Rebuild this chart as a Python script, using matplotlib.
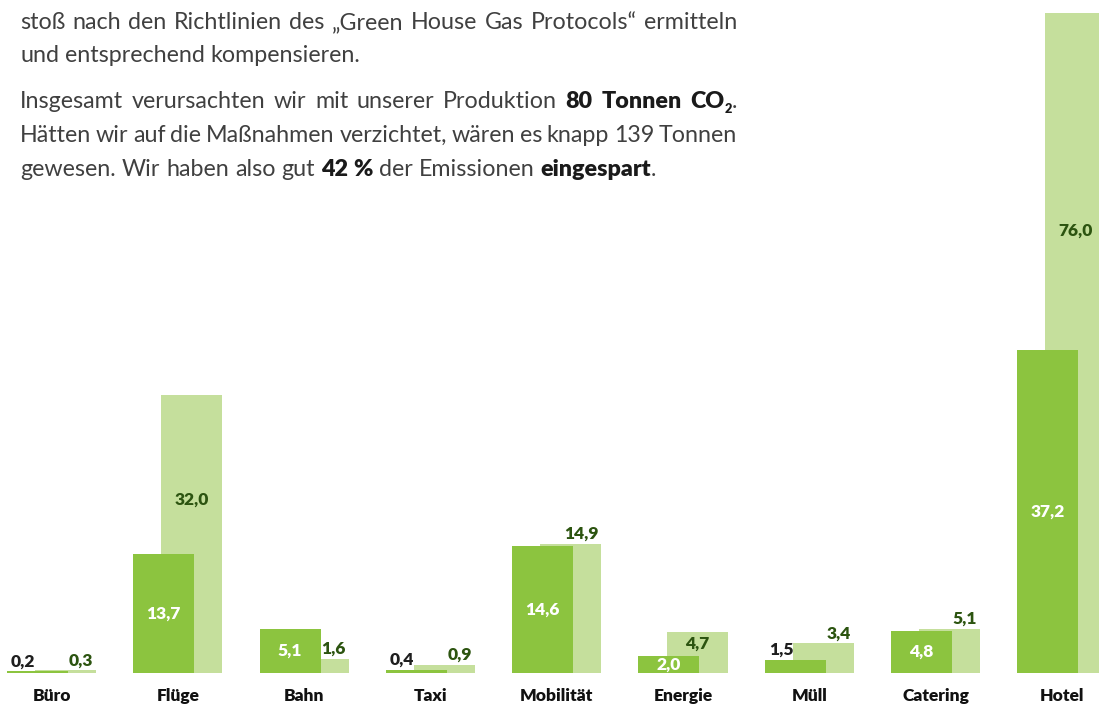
import numpy as np
import matplotlib
matplotlib.use("Agg")
import matplotlib.pyplot as plt
from matplotlib.transforms import IdentityTransform

# ---------------- data ----------------
categories = ["Büro", "Flüge", "Bahn", "Taxi", "Mobilität", "Energie", "Müll", "Catering", "Hotel"]
actual = [0.2, 13.7, 5.1, 0.4, 14.6, 2.0, 1.5, 4.8, 37.2]        # mit Maßnahmen
without = [0.3, 32.0, 1.6, 0.9, 14.9, 4.7, 3.4, 5.1, 76.0]       # ohne Maßnahmen

# paragraph: lines -> words -> segments (text, bold, subscript)
para_lines = [
    [[("stoß", 0, 0)], [("nach", 0, 0)], [("den", 0, 0)], [("Richtlinien", 0, 0)], [("des", 0, 0)],
     [("„Green", 0, 0)], [("House", 0, 0)], [("Gas", 0, 0)], [("Protocols“", 0, 0)], [("ermitteln", 0, 0)]],
    [[("und", 0, 0)], [("entsprechend", 0, 0)], [("kompensieren.", 0, 0)]],
    [[("Insgesamt", 0, 0)], [("verursachten", 0, 0)], [("wir", 0, 0)], [("mit", 0, 0)], [("unserer", 0, 0)],
     [("Produktion", 0, 0)], [("80", 1, 0)], [("Tonnen", 1, 0)], [("CO", 1, 0), ("2", 1, 1), (".", 0, 0)]],
    [[("Hätten", 0, 0)], [("wir", 0, 0)], [("auf", 0, 0)], [("die", 0, 0)], [("Maßnahmen", 0, 0)],
     [("verzichtet,", 0, 0)], [("wären", 0, 0)], [("es", 0, 0)], [("knapp", 0, 0)], [("139", 0, 0)], [("Tonnen", 0, 0)]],
    [[("gewesen.", 0, 0)], [("Wir", 0, 0)], [("haben", 0, 0)], [("also", 0, 0)], [("gut", 0, 0)],
     [("42", 1, 0)], [("%", 1, 0)], [("der", 0, 0)], [("Emissionen", 0, 0)], [("eingespart", 1, 0), (".", 0, 0)]],
]
justified = [True, False, True, True, False]
baselines_px = [29, 62, 108, 142, 176]   # from top

# ---------------- style ----------------
DARK = "#8cc43f"
LIGHT = "#c5df9c"
LIGHT_TXT = "#2c5410"
DARK_TXT = "#1e1e1e"
BODY = "#404040"
LABEL_FONT = "Lato"
BODY_FONT = "Lato"

W, H, DPI = 1099, 706, 100
fig = plt.figure(figsize=(W / DPI, H / DPI), dpi=DPI)
fig.patch.set_facecolor("white")

ax = fig.add_axes([0, 33 / H, 1, 1 - 33 / H])
n = len(categories)
x = np.arange(n)
off = 0.222
bw = 0.483
ax.bar(x + off / 2, without, bw, color=LIGHT, zorder=1, linewidth=0)
ax.bar(x - off / 2, actual, bw, color=DARK, zorder=2, linewidth=0)
ax.set_xlim(-0.408, 8.294)
ax.set_ylim(0, 77.5)
ax.axis("off")

fs = 12.5
lw_label = "heavy"
pt = 72 / DPI  # points per pixel


def fmt(v):
    return f"{v:.1f}".replace(".", ",")


for i in range(n):
    a, b = actual[i], without[i]
    xd, xl = x[i] - off / 2, x[i] + off / 2
    # dark bar label
    if a >= 2:
        ax.text(xd, a / 2, fmt(a), color="white", ha="center", va="center",
                fontsize=fs, fontweight=lw_label, family=LABEL_FONT, zorder=5)
    else:
        ax.annotate(fmt(a), (xd - bw / 2, a), xytext=(4 * pt, 5 * pt), textcoords="offset points",
                    ha="left", va="baseline", color=DARK_TXT, fontsize=fs, fontweight=lw_label,
                    family=LABEL_FONT, zorder=5)
    # light bar label
    if b > 20:
        ax.text(xl, 0.705 * b - 2.65, fmt(b), color=LIGHT_TXT, ha="center", va="center",
                fontsize=fs, fontweight=lw_label, family=LABEL_FONT, zorder=5)
    elif a >= 2 and b - a >= 2.5:
        ax.text(xl, (a + b) / 2, fmt(b), color=LIGHT_TXT, ha="center", va="center",
                fontsize=fs, fontweight=lw_label, family=LABEL_FONT, zorder=5)
    else:
        ax.annotate(fmt(b), (xl + bw / 2, b), xytext=(-3 * pt, 5 * pt), textcoords="offset points",
                    ha="right", va="baseline", color=LIGHT_TXT, fontsize=fs, fontweight=lw_label,
                    family=LABEL_FONT, zorder=5)
    # category label
    ax.annotate(categories[i], (x[i], 0), xytext=(0, -23 * pt), textcoords="offset points",
                ha="center", va="center", color="#111111", fontsize=fs, fontweight=lw_label,
                family=LABEL_FONT, annotation_clip=False)

# ---------------- paragraph with justification ----------------
renderer = fig.canvas.get_renderer()
ident = IdentityTransform()
left_px, right_px = 20, 737


def make(txt, bold, sub, size):
    return fig.text(0, 0, txt, transform=ident, fontsize=size * (0.55 if sub else 1),
                    fontweight="heavy" if bold else "normal", family=BODY_FONT,
                    color="#1a1a1a" if bold else BODY, ha="left", va="baseline")


def width(t):
    return t.get_window_extent(renderer).width


# fit font size so that line 2 spans ~342 px
probe = fig.text(0, 0, "und entsprechend kompensieren.", transform=ident, fontsize=14,
                 fontweight="normal", family=BODY_FONT)
body_fs = 14 * 342 / width(probe)
probe.remove()
sp1 = fig.text(0, 0, "n n", transform=ident, fontsize=body_fs, fontweight="normal", family=BODY_FONT)
sp2 = fig.text(0, 0, "nn", transform=ident, fontsize=body_fs, fontweight="normal", family=BODY_FONT)
space_w = width(sp1) - width(sp2)
sp1.remove(); sp2.remove()

for li, words in enumerate(para_lines):
    y = H - baselines_px[li]
    objs = []
    wws = []
    for word in words:
        segs = []
        for (txt, bold, sub) in word:
            t = make(txt, bold, sub, body_fs)
            segs.append((t, width(t), sub))
        objs.append(segs)
        wws.append(sum(s[1] for s in segs))
    total = sum(wws)
    if justified[li] and len(words) > 1:
        gap = (right_px - left_px - total) / (len(words) - 1)
    else:
        gap = space_w
    cx = left_px
    for segs, ww in zip(objs, wws):
        sx = cx
        for t, w_, sub in segs:
            t.set_position((sx, y - (5 if sub else 0)))
            sx += w_
        cx += ww + gap

fig.savefig("out.png", dpi=DPI, facecolor="white")
